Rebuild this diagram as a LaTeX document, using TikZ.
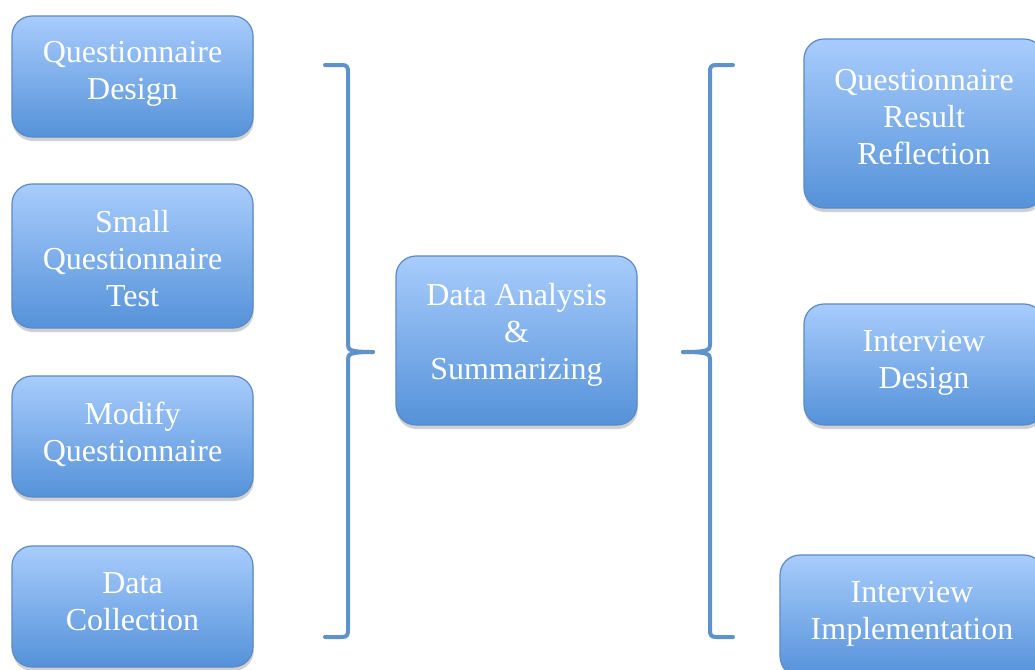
\documentclass[tikz,border=0pt]{standalone}
\usepackage{fontspec}
\setmainfont{Liberation Serif}
\usetikzlibrary{shadows}
\definecolor{boxtop}{HTML}{A8CCFC}
\definecolor{boxbot}{HTML}{5592D9}
\definecolor{boxline}{HTML}{5A8AC8}
\definecolor{bracecol}{HTML}{5D92CA}
\tikzset{
  stagebox/.style={rounded corners=15pt, top color=boxtop, bottom color=boxbot,
    draw=boxline, line width=0.9pt, inner sep=0pt, align=center, text=white,
    font=\fontsize{24}{27.75}\selectfont,
    drop shadow={shadow xshift=0.5pt, shadow yshift=-3pt, opacity=0.3, fill=black!60},
    minimum width=180.75pt, minimum height=90.75pt},
  bracket/.style={draw=bracecol, line width=3pt, line cap=round, line join=round}
}
\begin{document}
\begin{tikzpicture}[x=0.75pt,y=-0.75pt]
\clip (0,0) rectangle (1035,669);
\fill[white] (0,0) rectangle (1035,669);
% left column
\node[stagebox, text depth=9.7pt] (q1) at (132.5,76.5) {Questionnaire\\Design};
\node[stagebox, minimum height=108pt, text height=76.5pt] (q2) at (132.5,256) {Small\\Questionnaire\\Test};
\node[stagebox, text depth=7pt] (q3) at (132.5,436.5) {Modify\\Questionnaire};
\node[stagebox, text depth=7.5pt] (q4) at (132.5,606.5) {Data\\Collection};
% centre
\node[stagebox, minimum height=126.75pt, text depth=14.2pt] (c) at (516.5,340.5) {Data Analysis\\\&\\Summarizing};
% right column
\node[stagebox, minimum width=180pt, minimum height=126.75pt, text depth=10.5pt] (r1) at (924,123.5) {Questionnaire\\Result\\Reflection};
\node[stagebox, minimum width=180pt, text depth=8.2pt] (r2) at (924,364.5) {Interview\\Design};
\node[stagebox, minimum width=198pt, text depth=8.2pt] (r3) at (912,615.5) {Interview\\Implementation};
% brackets
\coordinate (lbT) at (325,65);
\coordinate (lbB) at (325,637);
\coordinate (lbM) at (373,352);
\draw[bracket] (lbT) -- (342,65) .. controls (347,65) and (348,67) .. (348,72)
  -- (348,345) .. controls (348,350) and (350,352) .. (lbM);
\draw[bracket] (lbM) .. controls (350,352) and (348,354) .. (348,359)
  -- (348,630) .. controls (348,635) and (347,637) .. (342,637) -- (lbB);
\coordinate (rbT) at (733,65);
\coordinate (rbB) at (733,637);
\coordinate (rbM) at (683,352);
\draw[bracket] (rbT) -- (716,65) .. controls (711,65) and (710,67) .. (710,72)
  -- (710,345) .. controls (710,350) and (708,352) .. (rbM);
\draw[bracket] (rbM) .. controls (708,352) and (710,354) .. (710,359)
  -- (710,630) .. controls (710,635) and (711,637) .. (716,637) -- (rbB);
\end{tikzpicture}
\end{document}
